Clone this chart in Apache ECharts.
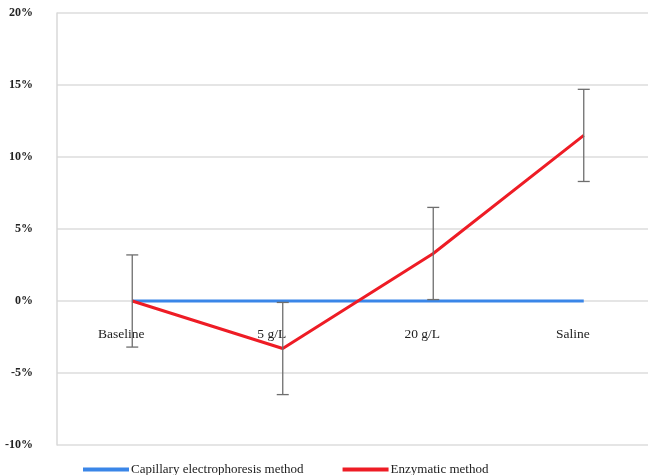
<!DOCTYPE html>
<html><head><meta charset="utf-8">
<script src="https://cdn.jsdelivr.net/npm/echarts@6/dist/echarts.min.js"></script>
<style>html,body{margin:0;padding:0;background:#fff}#c{width:648px;height:475px}</style>
</head><body><div id="c"></div>
<script>
const categories = ['Baseline', '5 g/L', '20 g/L', 'Saline'];
const capillary = [0, 0, 0, 0];
const enzymatic = [0, -3.3, 3.3, 11.5];
const errLow = [-3.2, -6.5, 0.1, 8.3];
const errHigh = [3.2, -0.1, 6.5, 14.7];
const yTicks = {min: -10, max: 20, interval: 5};

const chart = echarts.init(document.getElementById('c'));
const font = 'Liberation Serif';
chart.setOption({
  animation: false,
  textStyle: {fontFamily: font},
  grid: {left: 57, right: -11, top: 13, bottom: 30, containLabel: false, outerBoundsMode: 'none'},
  legend: {
    left: 78, top: 458, itemWidth: 46, itemHeight: 4, itemGap: 39, icon: 'rect',
    textStyle: {fontFamily: font, fontSize: 13, color: '#222', padding: [0,0,0,-3]},
    data: ['Capillary electrophoresis method', 'Enzymatic method']
  },
  xAxis: {
    type: 'category', data: categories, boundaryGap: true, position: 'bottom', offset: -144,
    axisLine: {show: false, onZero: false}, axisTick: {show: false},
    axisLabel: {margin: 26, fontFamily: font, fontSize: 13.5, color: '#222', padding: [0, 22, 0, 0]},
    splitLine: {show: false}
  },
  yAxis: {
    type: 'value', min: yTicks.min, max: yTicks.max, interval: yTicks.interval,
    axisLine: {show: true, lineStyle: {color: '#d9d9d9', width: 1.5}},
    axisTick: {show: false},
    axisLabel: {formatter: '{value}%', margin: 24, fontFamily: font, fontSize: 12, color: '#222', fontWeight: 'bold', verticalAlign: 'middle', lineHeight: 12, padding: [6, 0, 0, 0]},
    splitLine: {lineStyle: {color: '#dcdcdc', width: 1.5}}
  },
  series: [
    {
      name: 'Capillary electrophoresis method', type: 'line', data: capillary,
      showSymbol: false, symbol: 'none', z: 3,
      lineStyle: {color: '#3a86e8', width: 3}, itemStyle: {color: '#3a86e8'}
    },
    {
      name: 'Enzymatic method', type: 'line', data: enzymatic,
      showSymbol: false, symbol: 'none', z: 4,
      lineStyle: {color: '#ee1c25', width: 3}, itemStyle: {color: '#ee1c25'}
    },
    {
      type: 'custom', z: 5,
      data: categories.map((c, i) => [i, errLow[i], errHigh[i]]),
      renderItem: function (params, api) {
        const lo = api.coord([api.value(0), api.value(1)]);
        const hi = api.coord([api.value(0), api.value(2)]);
        const w = 6;
        const st = {stroke: '#6e6e6e', lineWidth: 1.3};
        return {type: 'group', children: [
          {type: 'line', shape: {x1: lo[0], y1: lo[1], x2: hi[0], y2: hi[1]}, style: st},
          {type: 'line', shape: {x1: lo[0]-w, y1: lo[1], x2: lo[0]+w, y2: lo[1]}, style: st},
          {type: 'line', shape: {x1: hi[0]-w, y1: hi[1], x2: hi[0]+w, y2: hi[1]}, style: st}
        ]};
      }
    }
  ]
});
</script></body></html>
